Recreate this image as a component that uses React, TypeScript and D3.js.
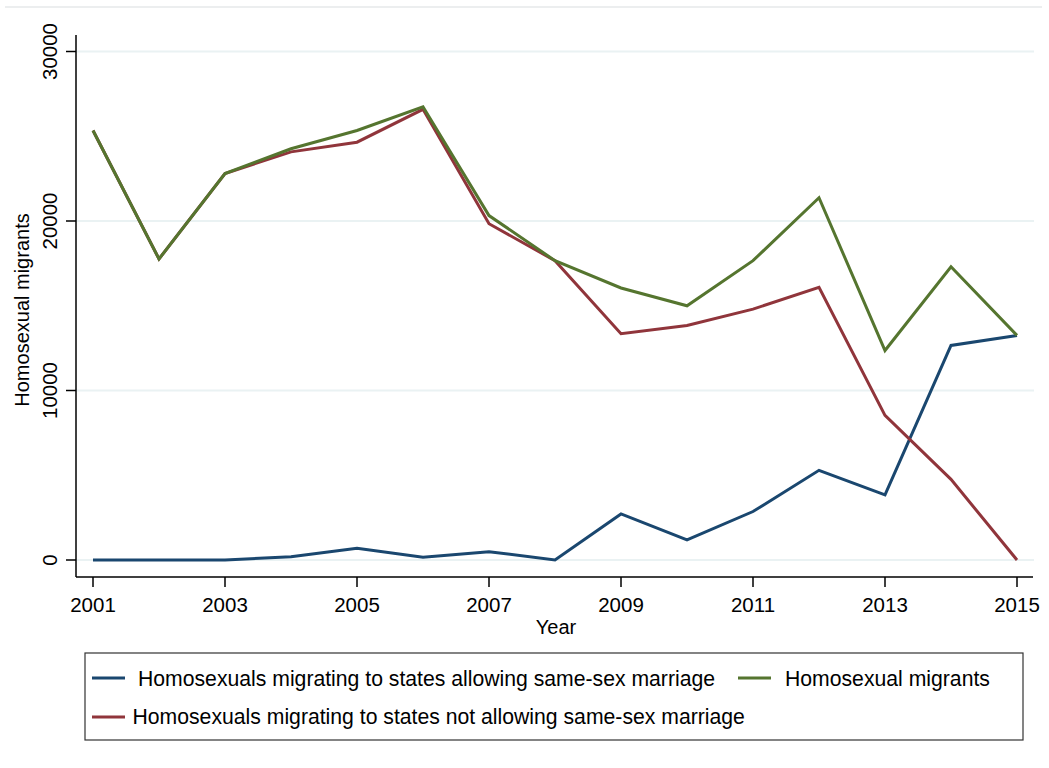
import React from "react";
import * as d3 from "d3";

const years = [2001, 2002, 2003, 2004, 2005, 2006, 2007, 2008, 2009, 2010, 2011, 2012, 2013, 2014, 2015];
const allowing = [0, 0, 0, 190, 690, 160, 490, 0, 2720, 1180, 2860, 5290, 3840, 12660, 13250];
const notAllowing = [25340, 17760, 22800, 24080, 24650, 26590, 19840, 17660, 13350, 13840, 14800, 16090, 8530, 4760, 0];
const total = [25340, 17760, 22800, 24260, 25340, 26740, 20320, 17660, 16050, 15000, 17660, 21370, 12360, 17300, 13250];
const xTicks = [2001, 2003, 2005, 2007, 2009, 2011, 2013, 2015];
const yTicks = [0, 10000, 20000, 30000];

const seriesNames = [
  "Homosexuals migrating to states allowing same-sex marriage",
  "Homosexual migrants",
  "Homosexuals migrating to states not allowing same-sex marriage",
];
const colors = ["#1a476f", "#55752f", "#90353b"];

const FONT = "'Liberation Sans', Arial, Helvetica, sans-serif";

export default function App() {
  const W = 1049, H = 768;
  const plotL = 76, plotR = 1034, plotT = 35, plotB = 577;
  const x = d3.scaleLinear().domain([2001, 2015]).range([93, 1017]);
  const y = d3.scaleLinear().domain([0, 30000]).range([560, 51.5]);
  const line = d3.line<number>().x((_, i) => x(years[i])).y((d) => y(d));
  const series = [
    { vals: allowing, color: colors[0] },
    { vals: notAllowing, color: colors[2] },
    { vals: total, color: colors[1] },
  ];
  return (
    <svg width={W} height={H} style={{ position: "absolute", left: 0, top: 0, background: "#fff" }} fontFamily={FONT}>
      <rect x={0} y={0} width={W} height={H} fill="#fff" />
      <line x1={5} x2={1042} y1={7} y2={7} stroke="#e6e9ea" strokeWidth={1.5} />
      {yTicks.map((t) => (
        <line key={"g" + t} x1={plotL} x2={plotR} y1={y(t)} y2={y(t)} stroke="#eaf2f3" strokeWidth={2} />
      ))}
      {series.map((s, i) => (
        <path key={i} d={line(s.vals) || ""} fill="none" stroke={s.color} strokeWidth={3} strokeLinejoin="miter" />
      ))}
      <line x1={plotL} x2={plotL} y1={plotT} y2={plotB} stroke="#000" strokeWidth={1.5} />
      <line x1={plotL} x2={plotR - 1} y1={plotB} y2={plotB} stroke="#000" strokeWidth={1.5} />
      {yTicks.map((t) => (
        <g key={"y" + t}>
          <line x1={plotL - 10} x2={plotL} y1={y(t)} y2={y(t)} stroke="#000" strokeWidth={1.5} />
          <text transform={`translate(57,${y(t)}) rotate(-90)`} textAnchor="middle" fontSize={20.5} fill="#000">
            {t}
          </text>
        </g>
      ))}
      {xTicks.map((t) => (
        <g key={"x" + t}>
          <line x1={x(t)} x2={x(t)} y1={plotB} y2={plotB + 10} stroke="#000" strokeWidth={1.5} />
          <text x={x(t)} y={612} textAnchor="middle" fontSize={20.5} fill="#000">
            {t}
          </text>
        </g>
      ))}
      <text x={556} y={634} textAnchor="middle" fontSize={20} fill="#000">Year</text>
      <text transform={`translate(29,${(plotT + plotB) / 2 + 4}) rotate(-90)`} textAnchor="middle" fontSize={20} fill="#000">
        Homosexual migrants
      </text>
      <rect x={85} y={653} width={938} height={87} fill="#fff" stroke="#333" strokeWidth={1.2} />
      <line x1={92} x2={125} y1={678} y2={678} stroke={colors[0]} strokeWidth={3} />
      <text x={138} y={685.5} fontSize={21.2} fill="#000">{seriesNames[0]}</text>
      <line x1={738} x2={771} y1={678} y2={678} stroke={colors[1]} strokeWidth={3} />
      <text x={785} y={685.5} fontSize={21.2} fill="#000">{seriesNames[1]}</text>
      <line x1={92} x2={125} y1={717} y2={717} stroke={colors[2]} strokeWidth={3} />
      <text x={132.5} y={724} fontSize={21.2} fill="#000">{seriesNames[2]}</text>
    </svg>
  );
}
